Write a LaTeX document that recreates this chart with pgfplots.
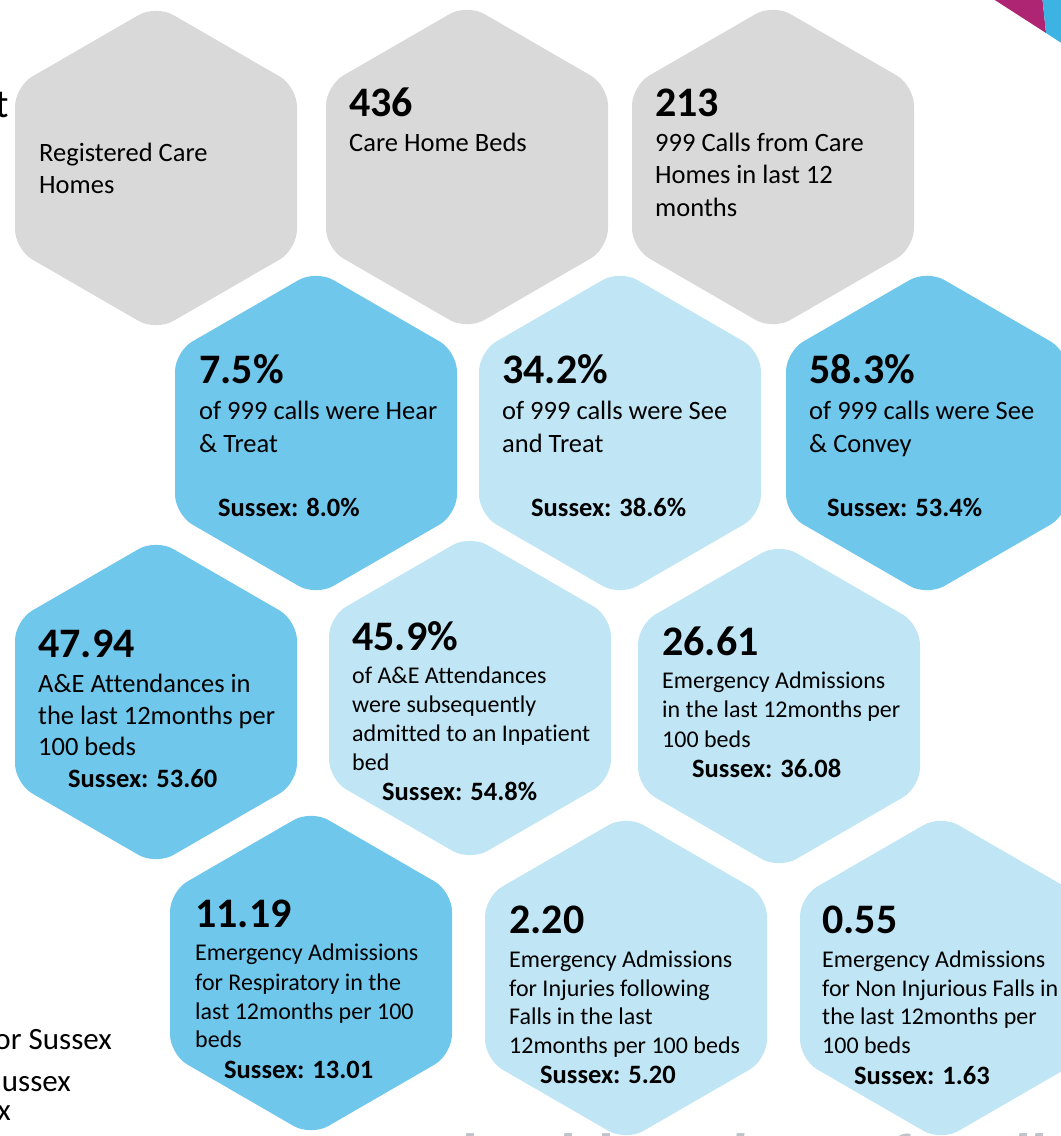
\documentclass[border=0pt]{standalone}
\usepackage{fontspec}
\setmainfont{Carlito}[Ligatures=NoCommon]
\usepackage{pgfplots}
\pgfplotsset{compat=1.18}
\definecolor{hgrey}{HTML}{D9D9D9}
\definecolor{hdark}{HTML}{70C7EC}
\definecolor{hlight}{HTML}{C0E6F5}
\definecolor{mag}{HTML}{AE2573}
\definecolor{cblue}{HTML}{3DB3E3}
\definecolor{slogan}{HTML}{BFC4CA}
\tikzset{
  hex/.style={draw=none, fill=#1, rounded corners=20bp, mark=none},
  big/.style={anchor=base west, inner sep=0pt, font=\fontsize{42bp}{50bp}\selectfont\bfseries},
  txt/.style={anchor=base west, inner sep=0pt, font=\fontsize{26.5bp}{32bp}\selectfont},
  sm/.style={anchor=base west, inner sep=0pt, font=\fontsize{24bp}{29bp}\selectfont},
  sus/.style={anchor=base west, inner sep=0pt, font=\fontsize{26.5bp}{32bp}\selectfont\bfseries},
  leg/.style={anchor=base east, inner sep=0pt, font=\fontsize{31bp}{36bp}\selectfont},
}
\begin{document}
\begin{tikzpicture}
\begin{axis}[scale only axis, width=1061bp, height=1136bp,
  xmin=0, xmax=1061, ymin=0, ymax=1136, y dir=reverse,
  hide axis, clip=true]
% slogan behind
\node[anchor=base west, inner sep=0pt, text=slogan,
  font=\fontsize{64bp}{70bp}\selectfont\bfseries\itshape]
  at (axis cs:280,1178) {Better health and care for all};
% corner shapes
\addplot[draw=none, fill=mag, mark=none] coordinates {(987,-5) (1042,-5) (1046,33)} -- cycle;
\addplot[draw=none, fill=cblue, mark=none] coordinates {(1042,-5) (1066,-5) (1066,46) (1046,33)} -- cycle;
% row 1 (grey)
\addplot[hex=hgrey] coordinates {(15,168) (15,86.5) (156,5) (297,86.5) (297,249.5) (156,331) (15,249.5)} -- cycle;
\addplot[hex=hgrey] coordinates {(326,167) (326,85.5) (467,4) (608,85.5) (608,248.5) (467,330) (326,248.5)} -- cycle;
\addplot[hex=hgrey] coordinates {(632,167) (632,85.5) (773,4) (914,85.5) (914,248.5) (773,330) (632,248.5)} -- cycle;
% row 2
\addplot[hex=hdark] coordinates {(175,433) (175,351.5) (316,270) (457,351.5) (457,514.5) (316,596) (175,514.5)} -- cycle;
\addplot[hex=hlight] coordinates {(479,433) (479,351.5) (620,270) (761,351.5) (761,514.5) (620,596) (479,514.5)} -- cycle;
\addplot[hex=hdark] coordinates {(786,433) (786,351.5) (927,270) (1068,351.5) (1068,514.5) (927,596) (786,514.5)} -- cycle;
% row 3
\addplot[hex=hdark] coordinates {(15,702) (15,620.5) (156,539) (297,620.5) (297,783.5) (156,865) (15,783.5)} -- cycle;
\addplot[hex=hlight] coordinates {(329,698) (329,616.5) (470,535) (611,616.5) (611,779.5) (470,861) (329,779.5)} -- cycle;
\addplot[hex=hlight] coordinates {(638,706) (638,624.5) (779,543) (920,624.5) (920,787.5) (779,869) (638,787.5)} -- cycle;
% row 4
\addplot[hex=hdark] coordinates {(170,973) (170,891.5) (311,810) (452,891.5) (452,1054.5) (311,1136) (170,1054.5)} -- cycle;
\addplot[hex=hlight] coordinates {(485,978) (485,896.5) (626,815) (767,896.5) (767,1059.5) (626,1141) (485,1059.5)} -- cycle;
\addplot[hex=hlight] coordinates {(800,978) (800,896.5) (941,815) (1082,896.5) (1082,1059.5) (941,1141) (800,1059.5)} -- cycle;

% cut-off texts at left
\node[anchor=base east, inner sep=0pt, font=\fontsize{40bp}{48bp}\selectfont] at (axis cs:9,118) {t};
\node[leg] at (axis cs:112,1049) {or Sussex};
\node[leg] at (axis cs:71,1091) {ussex};
\node[leg] at (axis cs:11,1120) {x};

% hex 1
\node[txt] at (axis cs:39,162) {Registered Care};
\node[txt] at (axis cs:39,194) {Homes};
% hex 2
\node[big] at (axis cs:349,117) {436};
\node[txt] at (axis cs:349,152) {Care Home Beds};
% hex 3
\node[big] at (axis cs:655,117) {213};
\node[txt] at (axis cs:655,152) {999 Calls from Care};
\node[txt] at (axis cs:655,184) {Homes in last 12};
\node[txt] at (axis cs:655,216) {months};
% hex 4
\node[big] at (axis cs:199,383) {7.5\%};
\node[txt] at (axis cs:199,419) {of 999 calls were Hear};
\node[txt] at (axis cs:199,452) {\& Treat};
\node[sus] at (axis cs:218,516) {Sussex: 8.0\%};
% hex 5
\node[big] at (axis cs:502,383) {34.2\%};
\node[txt] at (axis cs:502,419) {of 999 calls were See};
\node[txt] at (axis cs:502,452) {and Treat};
\node[sus] at (axis cs:531,516) {Sussex: 38.6\%};
% hex 6
\node[big] at (axis cs:809,383) {58.3\%};
\node[txt] at (axis cs:809,419) {of 999 calls were See};
\node[txt] at (axis cs:809,452) {\& Convey};
\node[sus] at (axis cs:827,516) {Sussex: 53.4\%};
% hex 7
\node[big] at (axis cs:38,657) {47.94};
\node[txt] at (axis cs:38,692) {A\&E Attendances in};
\node[txt] at (axis cs:38,724) {the last 12months per};
\node[txt] at (axis cs:38,755) {100 beds};
\node[sus] at (axis cs:68,787) {Sussex: 53.60};
% hex 8
\node[big] at (axis cs:352,650) {45.9\%};
\node[sm] at (axis cs:352,683) {of A\&E Attendances};
\node[sm] at (axis cs:352,712) {were subsequently};
\node[sm] at (axis cs:352,741) {admitted to an Inpatient};
\node[sm] at (axis cs:352,770) {bed};
\node[sus] at (axis cs:382,800) {Sussex: 54.8\%};
% hex 9
\node[big] at (axis cs:662,655) {26.61};
\node[sm] at (axis cs:662,688) {Emergency Admissions};
\node[sm] at (axis cs:662,717) {in the last 12months per};
\node[sm] at (axis cs:662,747) {100 beds};
\node[sus] at (axis cs:692,777) {Sussex: 36.08};
% hex 10
\node[big] at (axis cs:195,927) {11.19};
\node[sm] at (axis cs:195,960) {Emergency Admissions};
\node[sm] at (axis cs:195,990) {for Respiratory in the};
\node[sm] at (axis cs:195,1019) {last 12months per 100};
\node[sm] at (axis cs:195,1047) {beds};
\node[sus] at (axis cs:224,1078) {Sussex: 13.01};
% hex 11
\node[big] at (axis cs:509,933) {2.20};
\node[sm] at (axis cs:509,967) {Emergency Admissions};
\node[sm] at (axis cs:509,996) {for Injuries following};
\node[sm] at (axis cs:509,1024) {Falls in the last};
\node[sm] at (axis cs:509,1053) {12months per 100 beds};
\node[sus] at (axis cs:540,1083) {Sussex: 5.20};
% hex 12
\node[big] at (axis cs:822,933) {0.55};
\node[sm] at (axis cs:822,967) {Emergency Admissions};
\node[sm] at (axis cs:822,996) {for Non Injurious Falls in};
\node[sm] at (axis cs:822,1024) {the last 12months per};
\node[sm] at (axis cs:822,1053) {100 beds};
\node[sus] at (axis cs:854,1084) {Sussex: 1.63};

\coordinate (SW) at (axis cs:0,1136);
\coordinate (NE) at (axis cs:1061,0);
\end{axis}
\pgfresetboundingbox
\path[use as bounding box] (SW) rectangle (NE);
\end{tikzpicture}
\end{document}
